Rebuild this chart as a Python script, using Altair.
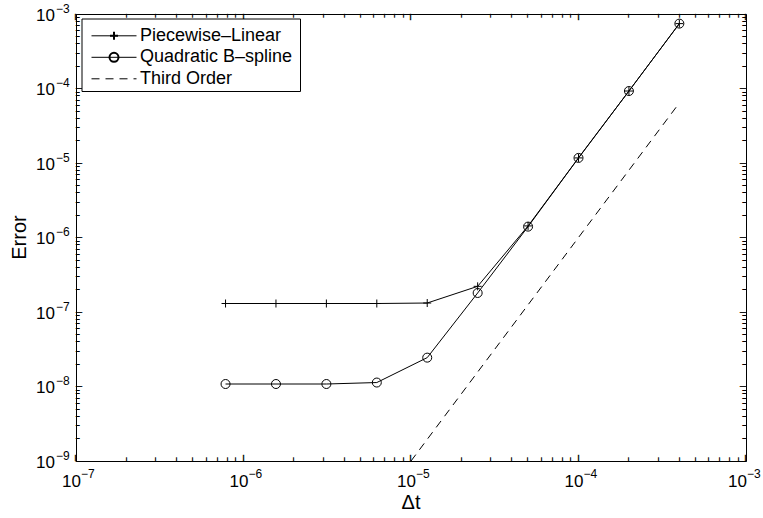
import altair as alt
import pandas as pd

# ---- data ----
dt = [7.8125e-7, 1.5625e-6, 3.125e-6, 6.25e-6, 1.25e-5, 2.5e-5, 5e-5, 1e-4, 2e-4, 4e-4]
err_pl = [1.30e-7, 1.30e-7, 1.30e-7, 1.30e-7, 1.32e-7, 2.21e-7, 1.43e-6, 1.17e-5, 9.25e-5, 7.43e-4]
err_qb = [1.08e-8, 1.08e-8, 1.08e-8, 1.13e-8, 2.44e-8, 1.80e-7, 1.40e-6, 1.17e-5, 9.25e-5, 7.43e-4]
dt_third = [1e-5, 1e-4, 4e-4]
err_third = [1e-9, 1e-6, 6.4e-5]

x_domain = [1e-7, 1e-3]
y_domain = [1e-9, 1e-3]
x_decades = [1e-7, 1e-6, 1e-5, 1e-4, 1e-3]
x_exps = ["−7", "−6", "−5", "−4", "−3"]
y_decades = [1e-9, 1e-8, 1e-7, 1e-6, 1e-5, 1e-4, 1e-3]
y_exps = ["−9", "−8", "−7", "−6", "−5", "−4", "−3"]
legend_labels = ["Piecewise–Linear", "Quadratic B–spline", "Third Order"]
x_title = "Δt"
y_title = "Error"

x_minor = [k * d for d in x_decades[:-1] for k in range(2, 10)]
y_minor = [k * d for d in y_decades[:-1] for k in range(2, 10)]

W, H = 670, 447
FONT = "Liberation Sans"
MAJ, MIN = 6, 3.5

xs = alt.Scale(type="log", domain=x_domain, nice=False)
ys = alt.Scale(type="log", domain=y_domain, nice=False)


def X(f):
    return alt.X(f, scale=xs, axis=None)


def Y(f):
    return alt.Y(f, scale=ys, axis=None)


df_pl = pd.DataFrame({"dt": dt, "err": err_pl})
df_qb = pd.DataFrame({"dt": dt, "err": err_qb})
df_th = pd.DataFrame({"dt": dt_third, "err": err_third})

line_pl = alt.Chart(df_pl).mark_line(color="black", strokeWidth=1, clip=True).encode(
    x=X("dt:Q"), y=Y("err:Q"))
line_qb = alt.Chart(df_qb).mark_line(color="black", strokeWidth=1, clip=True).encode(
    x=X("dt:Q"), y=Y("err:Q"))
line_th = alt.Chart(df_th).mark_line(color="black", strokeWidth=1, strokeDash=[8, 6],
                                     clip=True).encode(x=X("dt:Q"), y=Y("err:Q"))

PLUS = "M-1,0L1,0M0,-1L0,1"
pts_pl = alt.Chart(df_pl).mark_point(shape=PLUS, size=64, filled=False, color="black",
                                     strokeWidth=1, opacity=1).encode(x=X("dt:Q"), y=Y("err:Q"))
pts_qb = alt.Chart(df_qb).mark_point(shape="circle", size=81, filled=False, color="black",
                                     strokeWidth=1, opacity=1).encode(x=X("dt:Q"), y=Y("err:Q"))

# ---- inward ticks (MATLAB style): short dash glyphs placed through the scales ----
DASH = "–"
tick_layers = []
for vals, ln in ((x_decades, MAJ), (x_minor, MIN)):
    fs = ln / 0.556
    df = pd.DataFrame({"v": vals, "g": [DASH] * len(vals)})
    for yv, al in ((H, "right"), (0, "left")):
        tick_layers.append(alt.Chart(df).mark_text(
            angle=90, align=al, baseline="alphabetic", dy=0.276 * fs, font=FONT, fontSize=fs,
            color="black", stroke="black", strokeWidth=0.4).encode(
            x=X("v:Q"), y=alt.value(yv), text="g:N"))
for vals, ln in ((y_decades, MAJ), (y_minor, MIN)):
    fs = ln / 0.556
    df = pd.DataFrame({"v": vals, "g": [DASH] * len(vals)})
    for xv, al in ((0, "left"), (W, "right")):
        tick_layers.append(alt.Chart(df).mark_text(
            align=al, baseline="alphabetic", dy=0.276 * fs, font=FONT, fontSize=fs,
            color="black", stroke="black", strokeWidth=0.4).encode(
            y=Y("v:Q"), x=alt.value(xv), text="g:N"))

# ---- tick labels with superscript exponents ----
xlab = pd.DataFrame({"v": x_decades[:-1], "e": x_exps[:-1]})
xlab_last = pd.DataFrame({"v": x_decades[-1:], "e": x_exps[-1:]})
ylab = pd.DataFrame({"v": y_decades, "e": y_exps})

label_layers = []
for df, shift in ((xlab, 0), (xlab_last, -4)):
    label_layers.append(alt.Chart(df).mark_text(
        text="10", align="right", baseline="middle", dx=5 + shift,
        font=FONT, fontSize=17, color="black").encode(x=X("v:Q"), y=alt.value(H + 21)))
    label_layers.append(alt.Chart(df).mark_text(
        align="left", baseline="middle", dx=5 + shift,
        font=FONT, fontSize=12, color="black").encode(x=X("v:Q"), y=alt.value(H + 13), text="e:N"))
label_layers.append(alt.Chart(ylab).mark_text(
    text="10", align="right", baseline="middle", dy=1.5,
    font=FONT, fontSize=17, color="black").encode(y=Y("v:Q"), x=alt.value(-21)))
label_layers.append(alt.Chart(ylab).mark_text(
    align="left", baseline="middle", dy=-5.5,
    font=FONT, fontSize=12, color="black").encode(y=Y("v:Q"), x=alt.value(-20), text="e:N"))

# ---- axis titles ----
one = pd.DataFrame({"a": [0]})
title_layers = [
    alt.Chart(pd.DataFrame({"t": [x_title]})).mark_text(
        align="center", baseline="middle", font=FONT, fontSize=20, color="black").encode(
        x=alt.value(W / 2), y=alt.value(H + 42), text="t:N"),
    alt.Chart(pd.DataFrame({"t": [y_title]})).mark_text(
        align="center", baseline="middle", angle=270, font=FONT, fontSize=20, color="black").encode(
        x=alt.value(-56), y=alt.value(H / 2), text="t:N"),
]

# ---- legend ----
legend_layers = [
    alt.Chart(one).mark_rect(fill="white", stroke="black", strokeWidth=1).encode(
        x=alt.value(6), x2=alt.value(224.5), y=alt.value(5), y2=alt.value(77.5))
]
row_y = [21.8, 43.3, 64.8]
for i, lab in enumerate(legend_labels):
    rule_kw = dict(color="black", strokeWidth=1)
    if i == 2:
        rule_kw["strokeDash"] = [8, 6]
    legend_layers.append(alt.Chart(one).mark_rule(**rule_kw).encode(
        x=alt.value(15.5), x2=alt.value(60.5), y=alt.value(row_y[i])))
    if i == 0:
        legend_layers.append(alt.Chart(one).mark_point(shape=PLUS, size=64, filled=False,
                                                       color="black", opacity=1).encode(
            x=alt.value(38), y=alt.value(row_y[i])))
    if i == 1:
        legend_layers.append(alt.Chart(one).mark_point(shape="circle", size=81, filled=False,
                                                       color="black", opacity=1).encode(
            x=alt.value(38), y=alt.value(row_y[i])))
    legend_layers.append(alt.Chart(pd.DataFrame({"label": [lab]})).mark_text(
        align="left", baseline="middle", font=FONT, fontSize=18, color="black").encode(
        x=alt.value(64), y=alt.value(row_y[i]), text="label:N"))

chart = alt.layer(
    line_pl, line_qb, line_th, pts_pl, pts_qb, *tick_layers,
    *label_layers, *title_layers, *legend_layers
).properties(
    width=W, height=H,
    autosize=alt.AutoSizeParams(type="none"),
    padding={"left": 76, "top": 14, "right": 17, "bottom": 57},
    background="white",
).configure_view(stroke="black", strokeWidth=1)

chart.save("out.html", embed_options={"renderer": "svg", "actions": False})
